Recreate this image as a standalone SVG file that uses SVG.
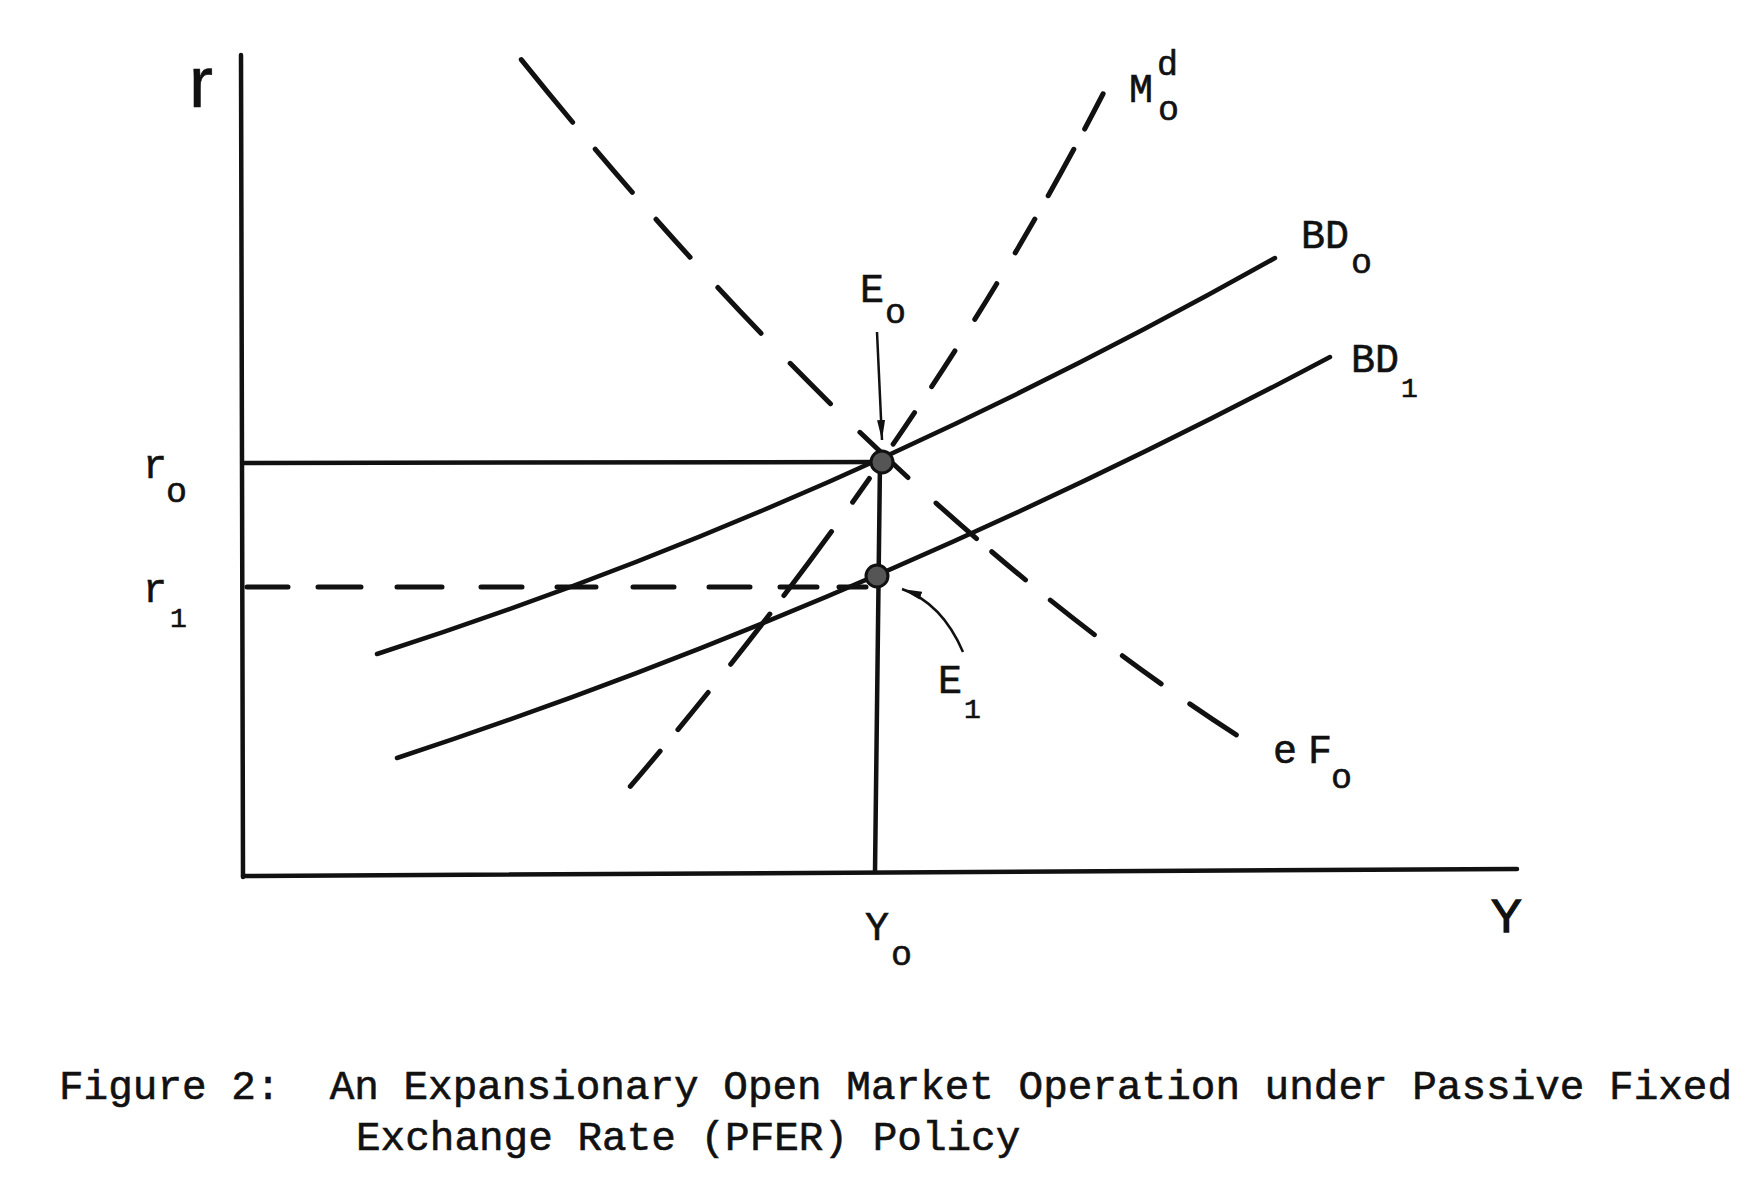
<svg xmlns="http://www.w3.org/2000/svg" width="1755" height="1177" viewBox="0 0 1755 1177">
  <style>
    .ln { fill: none; stroke: #111; stroke-width: 4.5; stroke-linecap: round; }
    .dash { fill: none; stroke: #111; stroke-width: 5; stroke-linecap: round; }
    .thin { fill: none; stroke: #111; stroke-width: 2.5; }
    .dot { fill: #555; stroke: #111; stroke-width: 3; }
    .t { font-family: "Liberation Mono", "Courier New", monospace; font-size: 40px; fill: #111; stroke: #111; stroke-width: 0.6; }
    .s { font-size: 35px; }
    .s1 { font-size: 28px; }
    .ax { font-family: "Liberation Sans", Arial, sans-serif; fill: #111; stroke: #111; }
    .cap { font-size: 41px; }
  </style>
  <defs>
    <marker id="head" markerUnits="userSpaceOnUse" markerWidth="22" markerHeight="10" refX="20" refY="5" orient="auto">
      <path d="M0,1 L20,5 L0,9 Z" fill="#111"/>
    </marker>
  </defs>
  <rect width="1755" height="1177" fill="#ffffff"/>

  <g id="axes">
    <path class="ln" d="M241,55 L243,877"/>
    <path class="ln" d="M243,876 L1517,869"/>
    <text class="ax" x="189" y="107" font-size="72" stroke-width="0.6">r</text>
    <text class="ax" x="1491" y="932" font-size="46" stroke-width="1.4">Y</text>
  </g>

  <g id="connectors">
    <path id="r0-line" class="ln" d="M243,463 L882,462"/>
    <path id="r1-line" class="dash" d="M247,587H288M318,587H361M397,587H442M481,587H522M557,587H596M633,587H674M709,587H750M780,587H817M839,587H866"/>
    <path id="y0-line" class="ln" d="M880,462 L875,872"/>
    <path id="eF0" class="dash" pathLength="992" stroke-dasharray="81 35 57 36 51 41 63 42 57 41 66 38 54 20 44 32 56 35 48 35 56" stroke-dashoffset="-2" d="M520,58 Q879,504 1238,736"/>
    <path id="Md0" class="dash" pathLength="845" stroke-dasharray="40 23 53 27 39 36 42 37 43 31 38 42 29 36 80 23 64 36 48 28 46" stroke-dashoffset="-2" d="M1104,92 Q925.5,440 629,788"/>
    <path id="BD0" class="ln" d="M377,654 Q826,510 1275,258"/>
    <path id="BD1" class="ln" d="M397,758 Q863.5,604.5 1330,357"/>
    <path id="E0-arrow" class="thin" d="M877,332 L882,440" marker-end="url(#head)"/>
    <path id="E1-arrow" class="thin" d="M963,652 Q942,603 902,589" marker-end="url(#head)"/>
  </g>

  <g id="E0">
    <circle class="dot" cx="882" cy="462" r="11"/>
    <text class="t" x="860" y="302">E</text>
    <text class="t s" x="885" y="323">o</text>
  </g>
  <g id="E1">
    <circle class="dot" cx="877" cy="576" r="11"/>
    <text class="t" x="938" y="693">E</text>
    <text class="t s1" x="964" y="718">1</text>
  </g>

  <g id="label-r0">
    <text class="t" x="143" y="478">r</text>
    <text class="t s" x="166" y="502">o</text>
  </g>
  <g id="label-r1">
    <text class="t" x="143" y="602">r</text>
    <text class="t s1" x="170" y="627">1</text>
  </g>
  <g id="label-Md">
    <text class="t" x="1129" y="102">M</text>
    <text class="t s" x="1157" y="75">d</text>
    <text class="t s" x="1158" y="120">o</text>
  </g>
  <g id="label-BD0">
    <text class="t" x="1301" y="248">BD</text>
    <text class="t s" x="1351" y="273">o</text>
  </g>
  <g id="label-BD1">
    <text class="t" x="1351" y="372">BD</text>
    <text class="t s1" x="1401" y="397">1</text>
  </g>
  <g id="label-eF0">
    <text class="t" x="1273" y="763">e</text>
    <text class="t" x="1308" y="763">F</text>
    <text class="t s" x="1331" y="788">o</text>
  </g>
  <g id="label-Y0">
    <text class="t" x="865" y="940">Y</text>
    <text class="t s" x="891" y="965">o</text>
  </g>

  <g id="caption">
    <text class="t cap" x="59" y="1099" xml:space="preserve">Figure 2:  An Expansionary Open Market Operation under Passive Fixed</text>
    <text class="t cap" x="356" y="1150">Exchange Rate (PFER) Policy</text>
  </g>
</svg>
